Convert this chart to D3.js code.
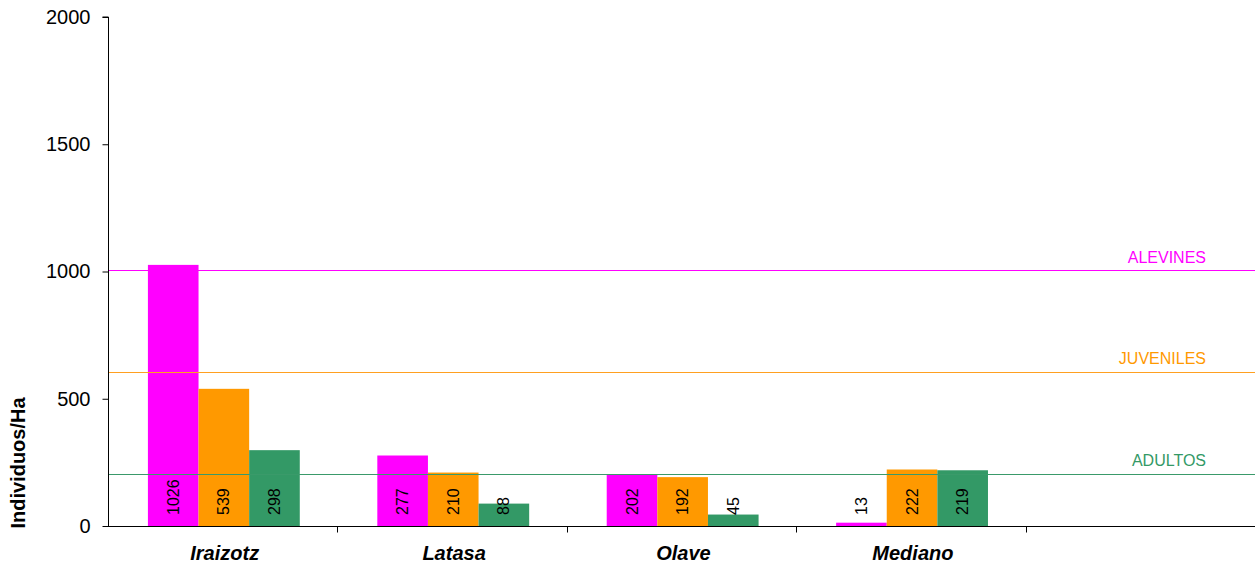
<!DOCTYPE html>
<html><head><meta charset="utf-8">
<script src="https://cdn.jsdelivr.net/npm/d3@7"></script>
<style>body{margin:0;background:#fff}svg{display:block;font-family:"Liberation Sans",Arial,sans-serif}</style>
</head><body>
<svg id="c" width="1255" height="565"></svg>
<script>
const categories = ["Iraizotz", "Latasa", "Olave", "Mediano", ""];
const seriesNames = ["ALEVINES", "JUVENILES", "ADULTOS"];
const alevines = [1026, 277, 202, 13];
const juveniles = [539, 210, 192, 222];
const adultos = [298, 88, 45, 219];
const refValues = [1000, 600, 200];
const yTicks = [0, 500, 1000, 1500, 2000];
const colors = ["#FF00FF", "#FF9900", "#339966"];
const lineColors = ["#FF00FF", "#FFA020", "#3A9A6A"];
const yLabel = "Individuos/Ha";

const series = [alevines, juveniles, adultos];
const svg = d3.select("#c");
const m = {l:108, r:1255, t:17, b:526};

const x0 = d3.scaleBand().domain(d3.range(categories.length)).range([m.l, m.r]).paddingInner(0).paddingOuter(0);
const bw = x0.bandwidth();
const x1 = d3.scaleBand().domain(d3.range(series.length)).range([bw*0.174, bw*0.174 + bw*0.662]).padding(0);
const y = d3.scaleLinear().domain([0, 2000]).range([m.b, m.t]);

// bars
series.forEach((vals, si) => {
  const g = svg.append("g");
  g.selectAll("rect").data(vals).join("rect")
    .attr("x", (d,i) => x0(i) + x1(si))
    .attr("y", d => y(d))
    .attr("width", x1.bandwidth())
    .attr("height", d => y(0) - y(d))
    .attr("fill", colors[si]);
});

// reference lines
const refG = svg.append("g");
refValues.forEach((v, i) => {
  const yy = 2 * Math.round((y(v) - 1) / 2) + 0.5;
  refG.append("line").attr("x1", m.l).attr("x2", m.r)
    .attr("y1", yy).attr("y2", yy)
    .attr("stroke", lineColors[i]).attr("stroke-width", 1.2);
  refG.append("text").attr("x", 1206).attr("y", y(v) - 9)
    .attr("text-anchor", "end").attr("fill", colors[i])
    .attr("font-size", 16).text(seriesNames[i]);
});

// value labels
series.forEach((vals, si) => {
  svg.append("g").selectAll("text").data(vals).join("text")
    .attr("transform", (d,i) => `translate(${x0(i) + x1(si) + x1.bandwidth()/2},${y(0) - 11}) rotate(-90)`)
    .attr("dy", "0.35em")
    .attr("font-size", 16)
    .attr("fill", "#000")
    .text(d => d);
});

// y axis
const ya = svg.append("g").attr("transform", `translate(${m.l + 0.5},0)`)
  .call(d3.axisLeft(y).tickValues(yTicks).tickSize(6).tickPadding(12).tickFormat(d3.format("d")));
ya.select(".domain").attr("stroke", "#000").attr("d", `M-6,${m.t}H0V${m.b}`);
ya.selectAll("line").attr("stroke", "#000");
ya.selectAll("text").attr("font-size", 20).attr("fill", "#000").attr("font-family", "Liberation Sans, Arial, sans-serif");

// x axis
const xa = svg.append("g").attr("transform", `translate(0,${m.b + 0.5})`);
xa.append("line").attr("x1", m.l).attr("x2", m.r).attr("stroke", "#000");
xa.selectAll("line.t").data(d3.range(1, categories.length)).join("line").attr("class", "t")
  .attr("x1", d => Math.round(x0(d)) + 0.5).attr("x2", d => Math.round(x0(d)) + 0.5)
  .attr("y1", 0).attr("y2", 6).attr("stroke", "#000");
xa.selectAll("text").data(categories).join("text")
  .attr("x", (d,i) => x0(i) + bw/2 + 2).attr("y", 33)
  .attr("text-anchor", "middle").attr("font-size", 20)
  .attr("font-weight", "bold").attr("font-style", "italic").text(d => d);

// y label
svg.append("text").attr("transform", "translate(25,463) rotate(-90)")
  .attr("text-anchor", "middle").attr("font-size", 20).attr("font-weight", "bold").text(yLabel);
</script>
</body></html>
